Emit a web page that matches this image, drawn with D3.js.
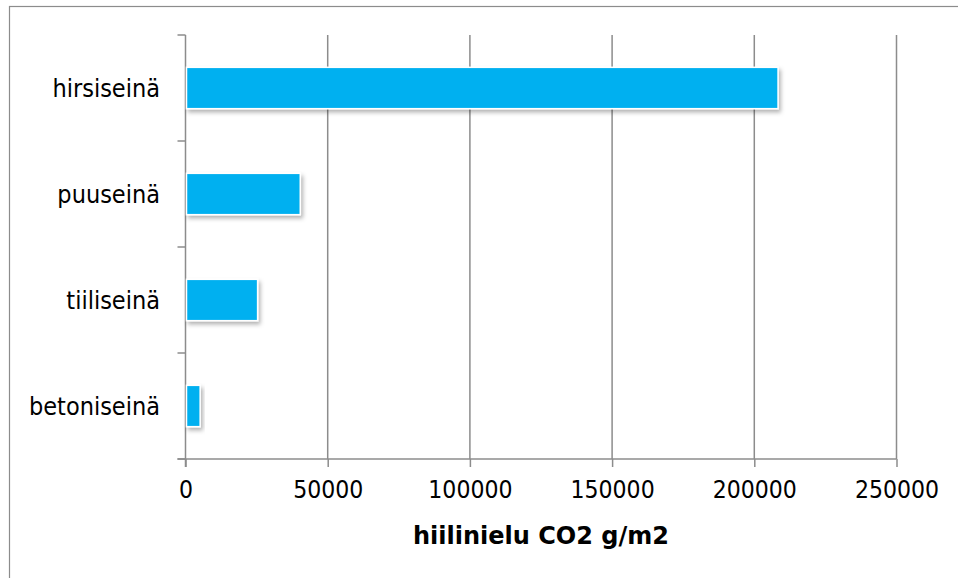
<!DOCTYPE html>
<html><head><meta charset="utf-8">
<script src="https://cdn.jsdelivr.net/npm/d3@7"></script>
<style>
html,body{margin:0;padding:0;background:#fff;}
svg{display:block;}
text{font-family:"DejaVu Sans Condensed","DejaVu Sans",sans-serif;fill:#000;}
</style></head>
<body>
<svg id="chart" width="958" height="578"></svg>
<script>
const categories = ["hirsiseinä","puuseinä","tiiliseinä","betoniseinä"];
const values = [208000, 40000, 25000, 4800];
const tickValues = [0, 50000, 100000, 150000, 200000, 250000];
const axisTitle = "hiilinielu CO2 g/m2";

(function(){
const svg = d3.select("#chart");
const W = 958, H = 578;
const mLeft = 185.5, mRight = 896.5, mTop = 35, mBottom = 459;
const gray = "#8c8c8c";

// outer border (left + top visible)
svg.append("rect").attr("x",9.5).attr("y",6.5).attr("width",W+20).attr("height",H+20)
  .attr("fill","none").attr("stroke",gray).attr("stroke-width",1.2);

const x = d3.scaleLinear().domain([0,250000]).range([mLeft,mRight]);
const y = d3.scaleBand().domain(categories).range([mTop,mBottom]).padding(0);

const defs = svg.append("defs");
const f = defs.append("filter").attr("id","sh").attr("x","-20%").attr("y","-30%").attr("width","150%").attr("height","180%");
f.append("feDropShadow").attr("dx",2).attr("dy",3).attr("stdDeviation",2.2).attr("flood-color","#000").attr("flood-opacity",0.3);

// gridlines
svg.append("g").selectAll("line").data(tickValues.slice(1)).join("line")
  .attr("x1",d=>x(d)).attr("x2",d=>x(d)).attr("y1",mTop).attr("y2",mBottom)
  .attr("stroke",gray).attr("stroke-width",1.5);

// x axis
const xAxis = d3.axisBottom(x).tickValues(tickValues).tickSize(8).tickPadding(14).tickFormat(d3.format("d"));
const gx = svg.append("g").attr("transform",`translate(0,${mBottom})`).call(xAxis);
gx.select(".domain").remove();
gx.append("line").attr("x1",mLeft-8).attr("x2",mRight).attr("y1",0).attr("y2",0).attr("stroke",gray).attr("stroke-width",1.5);
gx.selectAll(".tick line").attr("stroke",gray).attr("stroke-width",1.5);
gx.selectAll(".tick text").attr("font-size",24.5).attr("fill","#000");

// y axis line and boundary ticks
svg.append("line").attr("x1",mLeft).attr("x2",mLeft).attr("y1",mTop).attr("y2",mBottom+8)
  .attr("stroke",gray).attr("stroke-width",1.5);
const bounds = categories.map(c=>y(c)).concat([mBottom]);
svg.append("g").selectAll("line").data(bounds).join("line")
  .attr("x1",mLeft-8).attr("x2",mLeft).attr("y1",d=>d).attr("y2",d=>d)
  .attr("stroke",gray).attr("stroke-width",1.5);

// category labels
svg.append("g").selectAll("text").data(categories).join("text")
  .attr("x",160).attr("y",d=>y(d)+y.bandwidth()/2).attr("dy","0.36em")
  .attr("text-anchor","end").attr("font-size",25).text(d=>d);

// bars
const bh = y.bandwidth()*0.39;
svg.append("g").selectAll("rect").data(categories.map((c,i)=>({c,v:values[i]}))).join("rect")
  .attr("x",x(0)+1).attr("y",d=>y(d.c)+y.bandwidth()/2-bh/2)
  .attr("width",d=>x(d.v)-x(0)).attr("height",bh)
  .attr("fill","#00B0F0").attr("stroke","#fff").attr("stroke-width",1.5)
  .attr("filter","url(#sh)");

// axis title
svg.append("text").attr("x",(mLeft+mRight)/2).attr("y",544).attr("text-anchor","middle")
  .style("font-family",'"DejaVu Sans",sans-serif')
  .attr("font-size",24).attr("font-weight","bold").text(axisTitle);
})();
</script>
</body></html>
